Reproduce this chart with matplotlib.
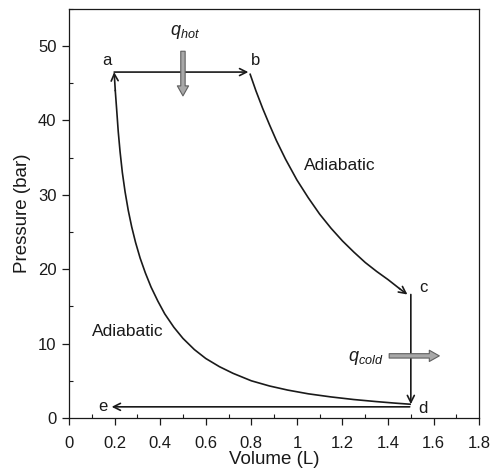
import matplotlib
matplotlib.use('Agg')
import matplotlib.pyplot as plt
from matplotlib.ticker import MultipleLocator

plt.rcParams['font.family'] = ['Liberation Sans', 'DejaVu Sans']
plt.rcParams['mathtext.fontset'] = 'custom'
plt.rcParams['mathtext.rm'] = 'Liberation Sans'
plt.rcParams['mathtext.it'] = 'Liberation Sans:italic'

ink = '#1a1a1a'

# points (volume in L, pressure in bar)
comp_V = [1.497, 1.43, 1.35, 1.25, 1.15, 1.05, 0.96, 0.88, 0.80, 0.72,
          0.66, 0.60, 0.55, 0.50, 0.46, 0.42, 0.39, 0.36, 0.335, 0.312,
          0.292, 0.275, 0.260, 0.246, 0.234, 0.224, 0.216, 0.209, 0.203, 0.198]
comp_P = [1.85, 2.0, 2.2, 2.48, 2.83, 3.25, 3.75, 4.3, 5.0, 6.0,
          6.9, 8.0, 9.2, 10.7, 12.2, 14.0, 15.7, 17.6, 19.5, 21.5,
          23.6, 25.7, 27.9, 30.4, 33.0, 35.8, 38.5, 41.5, 44.0, 46.5]

exp_V = [0.795, 0.82, 0.85, 0.88, 0.91, 0.95, 1.0, 1.05, 1.1, 1.15, 1.2,
         1.25, 1.3, 1.35, 1.4, 1.45, 1.485]
exp_P = [46.2, 44.0, 41.6, 39.4, 37.3, 34.8, 32.0, 29.6, 27.4, 25.5, 23.8,
         22.3, 20.9, 19.7, 18.6, 17.4, 16.6]

heat_V = [0.198, 0.787]
heat_P = [46.5, 46.5]

cool_V = [1.50, 1.50]
cool_P = [16.6, 1.85]

exh_V = [1.495, 0.187]
exh_P = [1.5, 1.5]

point_names = ['a', 'b', 'c', 'd', 'e']
point_V = [0.165, 0.82, 1.555, 1.555, 0.15]
point_P = [48.0, 48.0, 17.5, 1.3, 1.5]


def arrow_line(ax, V, P):
    ax.plot(V[:-1], P[:-1], color=ink, lw=1.2, solid_joinstyle='round')
    ax.annotate('', xy=(V[-1], P[-1]), xytext=(V[-2], P[-2]),
                arrowprops=dict(arrowstyle='->,head_length=0.5,head_width=0.25',
                                color=ink, lw=1.2, shrinkA=0, shrinkB=0))


fig = plt.figure(figsize=(4.93, 4.73), dpi=100)
ax = fig.add_axes([0.140, 0.1163, 0.832, 0.865])

arrow_line(ax, comp_V, comp_P)
arrow_line(ax, heat_V, heat_P)
arrow_line(ax, exp_V, exp_P)
arrow_line(ax, cool_V, cool_P)
arrow_line(ax, exh_V, exh_P)

for name, v, p in zip(point_names, point_V, point_P):
    ax.text(v, p, name, fontsize=12, color=ink, ha='center', va='center')

ax.text(1.19, 33.9, 'Adiabatic', fontsize=12.5, color=ink, ha='center', va='center')
ax.text(0.26, 11.6, 'Adiabatic', fontsize=12.5, color=ink, ha='center', va='center')

ax.text(0.51, 51.9, r'$q_{hot}$', fontsize=13, color=ink, ha='center', va='center')
ax.text(1.30, 8.0, r'$q_{cold}$', fontsize=13, color=ink, ha='center', va='center')

heat_style = 'simple,head_length=0.8,head_width=0.9,tail_width=0.35'
ax.annotate('', xy=(0.5, 43.3), xytext=(0.5, 49.3),
            arrowprops=dict(arrowstyle=heat_style, fc='#a8a8a8', ec='#606060',
                            lw=0.8, mutation_scale=9, shrinkA=0, shrinkB=0))
ax.annotate('', xy=(1.625, 8.35), xytext=(1.405, 8.35),
            arrowprops=dict(arrowstyle=heat_style, fc='#a8a8a8', ec='#606060',
                            lw=0.8, mutation_scale=9, shrinkA=0, shrinkB=0))

ax.set_xlim(0, 1.8)
ax.set_ylim(0, 55)
ax.xaxis.set_major_locator(MultipleLocator(0.2))
ax.xaxis.set_minor_locator(MultipleLocator(0.1))
ax.yaxis.set_major_locator(MultipleLocator(10))
ax.yaxis.set_minor_locator(MultipleLocator(5))
ax.set_xticks([0, 0.2, 0.4, 0.6, 0.8, 1.0, 1.2, 1.4, 1.6, 1.8])
ax.set_xticklabels(['0', '0.2', '0.4', '0.6', '0.8', '1', '1.2', '1.4', '1.6', '1.8'])
ax.tick_params(which='major', direction='out', length=5, width=0.9, labelsize=12,
               colors=ink)
ax.tick_params(axis='x', which='major', pad=8)
ax.tick_params(axis='y', which='major', pad=4)
ax.tick_params(which='minor', direction='in', length=3, width=0.8, colors=ink)
for s in ax.spines.values():
    s.set_color(ink)
    s.set_linewidth(0.9)

ax.set_xlabel('Volume (L)', fontsize=13.5, color=ink, labelpad=0)
ax.set_ylabel('Pressure (bar)', fontsize=13.5, color=ink, labelpad=5)

fig.savefig('out.png', dpi=100)
